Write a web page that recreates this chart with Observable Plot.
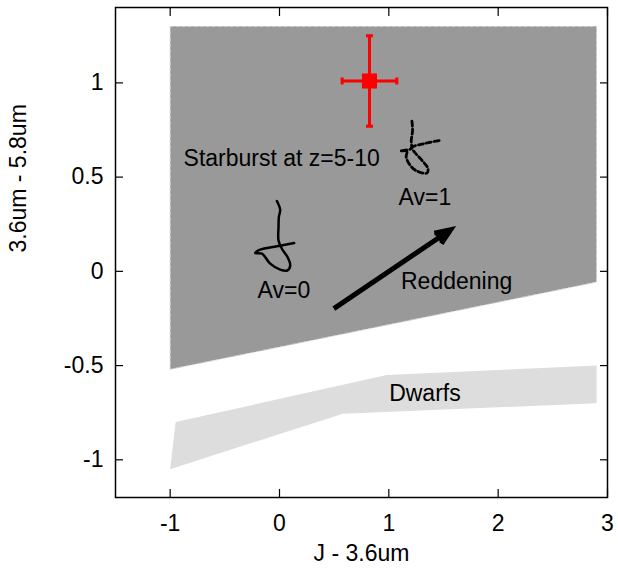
<!DOCTYPE html>
<html>
<head>
<meta charset="utf-8">
<script src="https://cdn.jsdelivr.net/npm/d3@7"></script>
<script src="https://cdn.jsdelivr.net/npm/@observablehq/plot@0.6"></script>
<style>
  html, body { margin: 0; padding: 0; background: #fff; }
  #chart { width: 618px; height: 568px; }
</style>
</head>
<body>
<div id="chart"></div>
<script>
// Tick values
const xTicks = [-1, 0, 1, 2, 3];
const yTicks = [-1, -0.5, 0, 0.5, 1];

// Starburst region (dark grey polygon)
const starburstX = [-1, 2.9, 2.9, -1, -1];
const starburstY = [1.3, 1.3, -0.057, -0.52, 1.3];

// Dwarfs region (light grey polygon)
const dwarfsX = [-0.95, 0.98, 2.9, 2.9, 0.58, -1, -0.95];
const dwarfsY = [-0.80, -0.55, -0.50, -0.70, -0.755, -1.05, -0.80];

// Av=0 track (solid)
const av0X = [-0.024, 0.006, -0.006, -0.009, -0.009, 0.022, 0.073, 0.098, 0.073, 0.006, -0.085, -0.161, -0.222, -0.177, -0.024, 0.134];
const av0Y = [0.373, 0.327, 0.288, 0.235, 0.164, 0.120, 0.076, 0.032, 0.005, 0.009, 0.041, 0.094, 0.097, 0.115, 0.133, 0.150];

// Av=1 track (dashed)
const av1X = [1.211, 1.217, 1.205, 1.202, 1.104, 1.166, 1.159, 1.196, 1.257, 1.349, 1.358, 1.303, 1.242, 1.211, 1.318, 1.470];
const av1Y = [0.797, 0.748, 0.695, 0.651, 0.638, 0.642, 0.606, 0.562, 0.532, 0.521, 0.545, 0.589, 0.628, 0.656, 0.677, 0.695];

// Observed point with error bars
const obsX = [0.823];
const obsY = [1.01];
const obsXErr = [0.25];
const obsYErr = [0.24];

// Reddening vector
const redX1 = [0.497], redY1 = [-0.198], redX2 = [1.565], redY2 = [0.221];

// Labels
const labelText = ["Starburst at z=5-10", "Av=1", "Av=0", "Reddening", "Dwarfs"];
const labelX = [0.02, 1.33, 0.04, 1.62, 1.33];
const labelY = [0.60, 0.39, -0.10, -0.055, -0.65];

const idx = (a) => a.map((_, i) => i);
const obs = obsX.map((x, i) => ({x, y: obsY[i], ex: obsXErr[i], ey: obsYErr[i]}));
const labels = labelText.map((t, i) => ({t, x: labelX[i], y: labelY[i]}));

// custom cap symbols (size = pi * r^2)
const hCap = {draw(ctx, size) { const r = Math.sqrt(size / Math.PI); ctx.moveTo(-r, 0); ctx.lineTo(r, 0); }};
const vCap = {draw(ctx, size) { const r = Math.sqrt(size / Math.PI); ctx.moveTo(0, -r); ctx.lineTo(0, r); }};

const font = "'Liberation Sans', Arial, Helvetica, sans-serif";
const FS = 23;

const chart = Plot.plot({
  width: 618,
  height: 568,
  marginLeft: 115,
  marginRight: 11,
  marginTop: 7,
  marginBottom: 71,
  style: {fontFamily: font, fontSize: FS + "px", color: "black", background: "white"},
  x: {type: "linear", domain: [-1.5, 3]},
  y: {type: "linear", domain: [-1.2, 1.4]},
  marks: [
    Plot.line(idx(starburstX), {x: (i) => starburstX[i], y: (i) => starburstY[i], fill: "#999999", stroke: "#d4d4d4", strokeWidth: 1, strokeDasharray: "3,3"}),
    Plot.line(idx(dwarfsX), {x: (i) => dwarfsX[i], y: (i) => dwarfsY[i], fill: "#dddddd", stroke: "none"}),
    Plot.line(idx(av0X), {x: (i) => av0X[i], y: (i) => av0Y[i], stroke: "black", strokeWidth: 2.5, curve: "catmull-rom"}),
    Plot.line(idx(av1X), {x: (i) => av1X[i], y: (i) => av1Y[i], stroke: "black", strokeWidth: 2.8, strokeDasharray: "5,3", curve: "catmull-rom"}),
    Plot.arrow(idx(redX1), {x1: (i) => redX1[i], y1: (i) => redY1[i], x2: (i) => redX2[i], y2: (i) => redY2[i], stroke: "black", fill: "black", strokeWidth: 5, headLength: 5, headAngle: 44, strokeLinecap: "butt", strokeLinejoin: "miter", strokeMiterlimit: 4}),
    // error bars
    Plot.link(obs, {x1: (d) => d.x - d.ex, x2: (d) => d.x + d.ex, y1: "y", y2: "y", stroke: "#ff0000", strokeWidth: 3}),
    Plot.link(obs, {x1: "x", x2: "x", y1: (d) => d.y - d.ey, y2: (d) => d.y + d.ey, stroke: "#ff0000", strokeWidth: 3}),
    Plot.dot(obs, {x: (d) => d.x - d.ex, y: "y", symbol: vCap, r: 3.5, stroke: "#ff0000", strokeWidth: 3, fill: "none"}),
    Plot.dot(obs, {x: (d) => d.x + d.ex, y: "y", symbol: vCap, r: 3.5, stroke: "#ff0000", strokeWidth: 3, fill: "none"}),
    Plot.dot(obs, {x: "x", y: (d) => d.y - d.ey, symbol: hCap, r: 3.5, stroke: "#ff0000", strokeWidth: 3, fill: "none"}),
    Plot.dot(obs, {x: "x", y: (d) => d.y + d.ey, symbol: hCap, r: 3.5, stroke: "#ff0000", strokeWidth: 3, fill: "none"}),
    Plot.dot(obs, {x: "x", y: "y", symbol: "square", r: 8.5, fill: "#ff0000", stroke: "none"}),
    // labels
    Plot.text(labels, {x: "x", y: "y", text: "t", fontSize: FS, fill: "black", textAnchor: "middle", lineAnchor: "middle"}),
    // axes: labels
    Plot.axisX(xTicks, {anchor: "bottom", tickSize: 0, tickPadding: 17, fontSize: FS, label: null, tickFormat: (d) => String(d)}),
    Plot.axisY(yTicks, {anchor: "left", tickSize: 0, tickPadding: 12, fontSize: FS, label: null, tickFormat: (d) => String(d)}),
    // inward ticks on all sides
    Plot.axisX(xTicks, {anchor: "bottom", tickSize: -8, text: null, label: null, strokeWidth: 1.2}),
    Plot.axisX(xTicks, {anchor: "top", tickSize: -8, text: null, label: null, strokeWidth: 1.2}),
    Plot.axisY(yTicks, {anchor: "left", tickSize: -8, text: null, label: null, strokeWidth: 1.2}),
    Plot.axisY(yTicks, {anchor: "right", tickSize: -8, text: null, label: null, strokeWidth: 1.2}),
    Plot.frame({stroke: "black", strokeWidth: 1.5}),
    // axis titles
    Plot.text(["J - 3.6um"], {frameAnchor: "bottom", dy: 56, text: (d) => d, fontSize: FS, lineAnchor: "middle"}),
    Plot.text(["3.6um - 5.8um"], {frameAnchor: "left", dx: -97, rotate: -90, text: (d) => d, fontSize: FS, lineAnchor: "middle"})
  ]
});
document.getElementById("chart").appendChild(chart);
</script>
</body>
</html>
